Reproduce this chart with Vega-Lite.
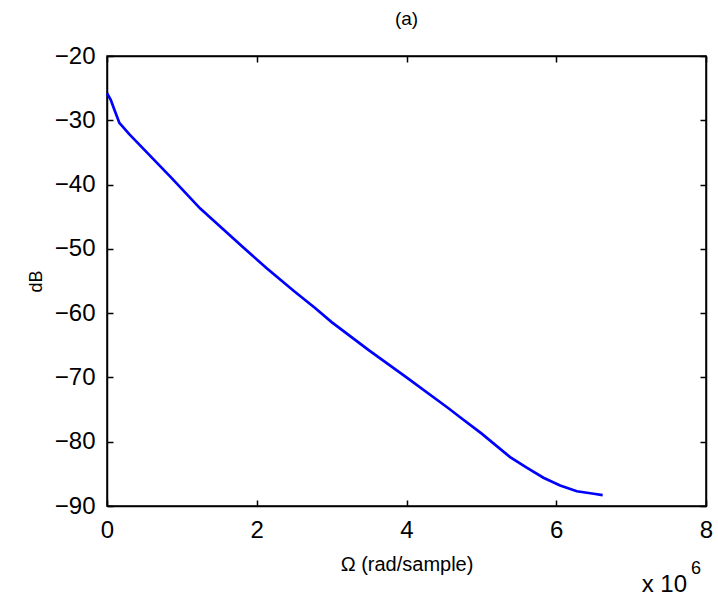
{
  "$schema": "https://vega.github.io/schema/vega-lite/v6.json",
  "autosize": "none",
  "width": 599,
  "height": 450,
  "padding": {"left": 107, "top": 56, "right": 12, "bottom": 107},
  "background": "white",
  "title": {"text": "(a)", "font": "Liberation Sans", "fontSize": 19, "fontWeight": "normal", "color": "black", "offset": 15},
  "config": {
    "view": {"stroke": "black", "strokeWidth": 1.5},
    "axis": {"grid": false, "domainColor": "black", "domainWidth": 1.5, "tickColor": "black", "tickWidth": 1.5, "labelColor": "black", "titleColor": "black", "labelFont": "Liberation Sans", "titleFont": "Liberation Sans", "titleFontWeight": "normal", "labelFlush": false}
  },
  "data": {"values": [
    {"omega": 0, "dB": -25.8},
    {"omega": 0.05, "dB": -26.8},
    {"omega": 0.1, "dB": -28.4},
    {"omega": 0.165, "dB": -30.4},
    {"omega": 0.3, "dB": -32.2},
    {"omega": 0.5, "dB": -34.6},
    {"omega": 0.864, "dB": -39.0},
    {"omega": 1.242, "dB": -43.7},
    {"omega": 1.5, "dB": -46.4},
    {"omega": 1.821, "dB": -49.8},
    {"omega": 2.133, "dB": -53.0},
    {"omega": 2.5, "dB": -56.6},
    {"omega": 2.779, "dB": -59.2},
    {"omega": 3.0, "dB": -61.4},
    {"omega": 3.5, "dB": -65.8},
    {"omega": 4.0, "dB": -70.0},
    {"omega": 4.56, "dB": -74.8},
    {"omega": 4.716, "dB": -76.2},
    {"omega": 5.0, "dB": -78.7},
    {"omega": 5.384, "dB": -82.4},
    {"omega": 5.6, "dB": -84.0},
    {"omega": 5.829, "dB": -85.6},
    {"omega": 6.052, "dB": -86.8},
    {"omega": 6.275, "dB": -87.7},
    {"omega": 6.5, "dB": -88.1},
    {"omega": 6.62, "dB": -88.3}
  ]},
  "layer": [
    {
      "mark": {"type": "line", "color": "#0000ff", "strokeWidth": 2.7},
      "encoding": {
        "x": {"field": "omega", "type": "quantitative", "scale": {"domain": [0, 8], "nice": false},
              "axis": {"orient": "bottom", "values": [0, 2, 4, 6, 8], "tickSize": -6, "labelPadding": 18, "labelFontSize": 24, "title": "Ω (rad/sample)", "titleFontSize": 20, "titlePadding": 12}},
        "y": {"field": "dB", "type": "quantitative", "scale": {"domain": [-90, -20], "nice": false, "zero": false},
              "axis": {"orient": "left", "values": [-90, -80, -70, -60, -50, -40, -30, -20], "tickSize": -6, "labelPadding": 18, "labelFontSize": 24, "title": "dB", "titleFontSize": 18, "titlePadding": 9}}
      }
    },
    {
      "mark": {"type": "line", "strokeOpacity": 0},
      "encoding": {
        "x": {"field": "omega", "type": "quantitative", "scale": {"domain": [0, 8], "nice": false},
              "axis": {"orient": "top", "values": [0, 2, 4, 6, 8], "tickSize": -6, "labels": false, "title": null}},
        "y": {"field": "dB", "type": "quantitative", "scale": {"domain": [-90, -20], "nice": false, "zero": false},
              "axis": {"orient": "right", "values": [-90, -80, -70, -60, -50, -40, -30, -20], "tickSize": -6, "labels": false, "title": null}}
      }
    },
    {
      "data": {"values": [{"label": "x 10"}]},
      "mark": {"type": "text", "font": "Liberation Sans", "fontSize": 24, "align": "right", "baseline": "alphabetic", "color": "black", "dx": -19},
      "encoding": {"x": {"datum": 8, "axis": null}, "y": {"datum": -103.3, "axis": null}, "text": {"field": "label"}}
    },
    {
      "data": {"values": [{"label": "6"}]},
      "mark": {"type": "text", "font": "Liberation Sans", "fontSize": 18, "align": "left", "baseline": "alphabetic", "color": "black", "dx": -15},
      "encoding": {"x": {"datum": 8, "axis": null}, "y": {"datum": -100.6, "axis": null}, "text": {"field": "label"}}
    }
  ],
  "resolve": {"axis": {"x": "independent", "y": "independent"}}
}
